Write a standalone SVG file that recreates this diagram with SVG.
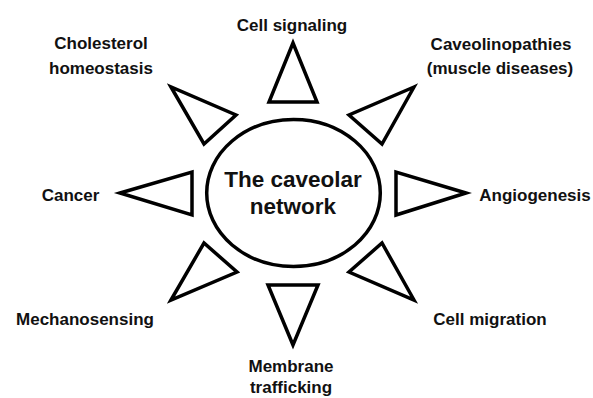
<svg xmlns="http://www.w3.org/2000/svg" width="593" height="398" viewBox="0 0 593 398">
<style>
  text { font-family: "Liberation Sans", Arial, sans-serif; font-weight: bold; fill: #111; text-anchor: middle; }
  .lbl { font-size: 17px; }
  .ctr { font-size: 22.5px; }
  .shape { fill: #fff; stroke: #000; stroke-width: 3.5; stroke-linejoin: miter; }
</style>
<rect width="593" height="398" fill="#fff"/>
<g id="center">
  <ellipse class="shape" cx="293.5" cy="193" rx="86.8" ry="73.5"/>
  <text class="ctr" x="293" y="186.5">The caveolar</text>
  <text class="ctr" x="293" y="214">network</text>
</g>
<g id="connectors">
  <polygon class="shape" points="293,43 269,102 317,102"/>
  <polygon class="shape" points="171,87 204,144 236,115"/>
  <polygon class="shape" points="414,87 349,115 382,144"/>
  <polygon class="shape" points="120,193 192,172 192,215"/>
  <polygon class="shape" points="466,193 396,172 396,215"/>
  <polygon class="shape" points="171,300 204,243 237,272"/>
  <polygon class="shape" points="414,300 382,243 349,272"/>
  <polygon class="shape" points="293,345 268,285 318,285"/>
</g>
<g id="cell-signaling"><text class="lbl" x="292" y="31">Cell signaling</text></g>
<g id="cholesterol"><text class="lbl" x="101" y="49">Cholesterol</text><text class="lbl" x="101" y="74">homeostasis</text></g>
<g id="caveolinopathies"><text class="lbl" x="501" y="50">Caveolinopathies</text><text class="lbl" x="500" y="74">(muscle diseases)</text></g>
<g id="cancer"><text class="lbl" x="70.5" y="200.5">Cancer</text></g>
<g id="angiogenesis"><text class="lbl" x="535" y="200.5">Angiogenesis</text></g>
<g id="mechanosensing"><text class="lbl" x="85" y="325">Mechanosensing</text></g>
<g id="cell-migration"><text class="lbl" x="490" y="325">Cell migration</text></g>
<g id="membrane-trafficking"><text class="lbl" x="291" y="371.5">Membrane</text><text class="lbl" x="291" y="393">trafficking</text></g>
</svg>
